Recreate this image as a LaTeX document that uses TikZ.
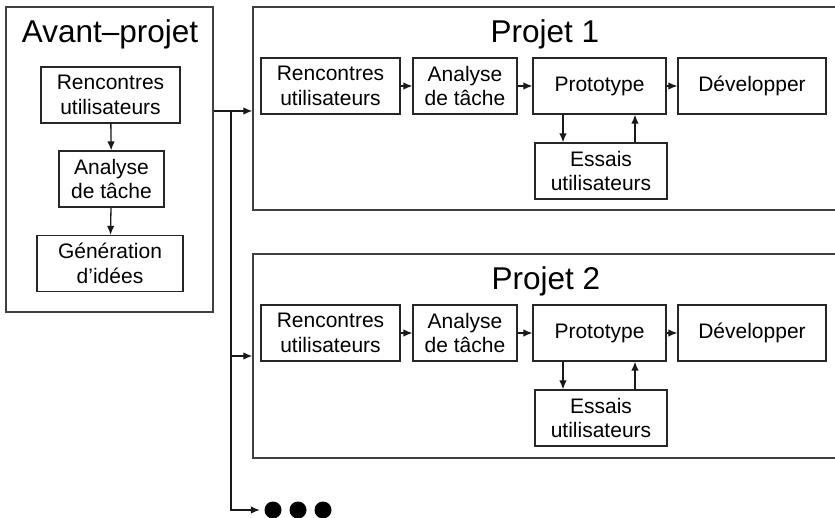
\documentclass[tikz,border=0pt]{standalone}
\usepackage{fontspec}
\setmainfont{Liberation Sans}
\usetikzlibrary{arrows.meta, positioning, calc}

\begin{document}
\begin{tikzpicture}[x=1pt, y=-1pt, line width=1.3pt, draw=black!85]
                \tikzset{
                    etape/.style={draw=black!85, line width=1.2pt, minimum height=56pt, align=center, inner sep=0pt, font=\fontsize{21}{24.5}\selectfont},
                    cadre/.style={draw=black!75, line width=1.4pt, inner sep=0pt},
                    titre/.style={anchor=base, font=\fontsize{31.5}{36}\selectfont},
                    fleche/.style={-{Latex[length=9pt, width=7.5pt]}, line width=1.3pt, black!90},
                    point/.style={circle, fill=black, inner sep=0pt, minimum size=17pt}
                }
                \clip (0,0) rectangle (835,518);

                % avant-projet
                \node[cadre, minimum width=207pt, minimum height=305pt] (avant) at (109.5,159.5) {};
                \node[titre] (tavant) at (110,43) {Avant--projet};
                \node[etape, minimum width=139pt] (rencA) at (110.5,95)  {Rencontres\\utilisateurs};
                \node[etape, minimum width=105pt] (anaA)  at (111.5,179) {Analyse\\de tâche};
                \node[etape, minimum width=146pt] (genA)  at (110,263.5) {Génération\\d’idées};
                \draw[fleche] (rencA) -- (anaA);
                \draw[fleche] (anaA) -- (genA);

                % projet 1
                \node[cadre, minimum width=600pt, minimum height=203pt] (p1box) at (553,108.5) {};
                \node[titre] (tp1) at (545,43) {Projet 1};
                \node[etape, minimum width=139pt] (renc1)  at (330.5,86) {Rencontres\\utilisateurs};
                \node[etape, minimum width=104pt] (ana1)   at (465,86)   {Analyse\\de tâche};
                \node[etape, minimum width=133pt] (proto1) at (599.5,86) {Prototype};
                \node[etape, minimum width=148pt] (dev1)   at (752,86)   {Développer};
                \node[etape, minimum width=132pt] (ess1)   at (601,171)  {Essais\\utilisateurs};
                \draw[fleche] (renc1) -- (ana1);
                \draw[fleche] (ana1) -- (proto1);
                \draw[fleche] (proto1) -- (dev1);
                \draw[fleche] (proto1.south -| 563,0) -- (ess1.north -| 563,0);
                \draw[fleche] (ess1.north -| 635,0) -- (proto1.south -| 635,0);

                % projet 2
                \node[cadre, minimum width=600pt, minimum height=204pt] (p2box) at (553,356) {};
                \node[titre] (tp2) at (546,290) {Projet 2};
                \node[etape, minimum width=139pt] (renc2)  at (330.5,333) {Rencontres\\utilisateurs};
                \node[etape, minimum width=104pt] (ana2)   at (465,333)   {Analyse\\de tâche};
                \node[etape, minimum width=133pt] (proto2) at (599.5,333) {Prototype};
                \node[etape, minimum width=148pt] (dev2)   at (752,333)   {Développer};
                \node[etape, minimum width=132pt] (ess2)   at (601,418)   {Essais\\utilisateurs};
                \draw[fleche] (renc2) -- (ana2);
                \draw[fleche] (ana2) -- (proto2);
                \draw[fleche] (proto2) -- (dev2);
                \draw[fleche] (proto2.south -| 563,0) -- (ess2.north -| 563,0);
                \draw[fleche] (ess2.north -| 635,0) -- (proto2.south -| 635,0);

                % suite
                \node[point] (pt1) at (273,510) {};
                \node[point] (pt2) at (298,510) {};
                \node[point] (pt3) at (323,510) {};

                \coordinate (fourche) at (231,111);
                \draw[line width=1.3pt, black!90] (avant.east |- fourche) -- (fourche);
                \draw[fleche] (fourche) -- (fourche -| p1box.west);
                \draw[fleche] (fourche) |- (p2box.west |- 0,356);
                \draw[fleche, shorten >=4pt] (fourche) |- (pt1.west);
            \end{tikzpicture}
\end{document}
